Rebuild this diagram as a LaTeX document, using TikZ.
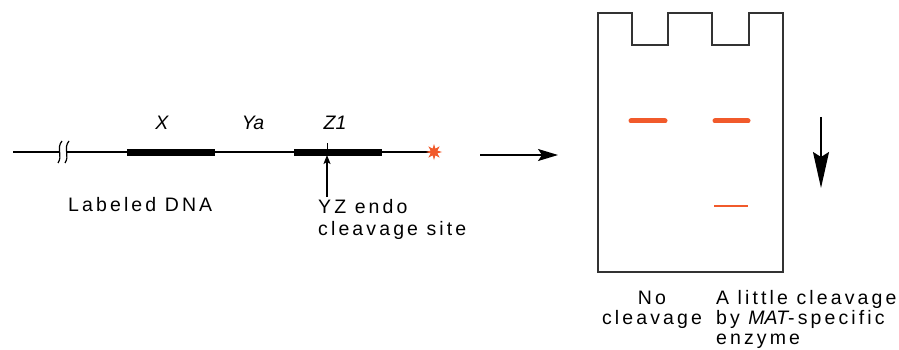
\documentclass[tikz,border=0pt]{standalone}
\usepackage{fontspec}
\setmainfont{Liberation Sans}[LetterSpace=16]
\newfontfamily\plainsf{Liberation Sans}
\usetikzlibrary{arrows.meta,shapes.geometric}
\definecolor{bandred}{HTML}{F15A2B}
\definecolor{gelgray}{HTML}{333333}
\tikzset{
  lbl/.style={inner sep=0pt, font=\fontsize{19.5}{22}\selectfont},
  blbl/.style={inner sep=0pt, font=\fontsize{19.5}{20}\selectfont},
  ilbl/.style={lbl, font=\fontsize{19.5}{22}\selectfont\plainsf\itshape},
  thin dna/.style={line width=2pt, black},
  gene/.style={line width=7pt, black},
  band/.style={line width=5pt, bandred, line cap=round},
  gel/.style={line width=1.5pt, gelgray, line join=miter},
  brk/.style={line width=1.2pt, black},
}
\begin{document}
\begin{tikzpicture}[x=1pt,y=-1pt]
\useasboundingbox (0,0) rectangle (899,350);
% DNA
\coordinate (dL) at (13,152);
\coordinate (b1) at (60,152);
\coordinate (b2) at (67,152);
\coordinate (dR) at (430,152);
\coordinate (xa) at (127,152);
\coordinate (xb) at (215,152);
\coordinate (za) at (294,152);
\coordinate (zb) at (382,152);
\draw[thin dna] (dL) -- (b1);
\draw[thin dna] (b2) -- (dR);
\draw[gene] (xa) -- (xb);
\draw[gene] (za) -- (zb);
\draw[brk] (62,141) .. controls (56,148) and (63,156) .. (58,163);
\draw[brk] (69,141) .. controls (63,148) and (70,156) .. (65,163);
\node[star, star points=8, star point ratio=2.2, fill=bandred, inner sep=0pt, minimum size=16pt] (st) at (434,152) {};
\node[ilbl, anchor=base] (lx) at (162,130) {X};
\node[ilbl, anchor=base] (lya) at (253,130) {Ya};
\node[ilbl, anchor=base] (lz) at (335,130) {Z1};
% cleavage site
\coordinate (tk1) at (327,143);
\coordinate (tk2) at (327,152);
\draw[line width=1pt] (tk1) -- (tk2);
\coordinate (cs) at (327,197);
\coordinate (csh) at (327,155);
\draw[line width=1.2pt, -{Stealth[length=9pt,width=7pt,inset=2pt]}] (cs) -- (csh);
\node[lbl, anchor=base west] (ldna) at (68,211) {Labeled DNA};
\node[lbl, anchor=base west, align=left] (lyz) at (318,235) {YZ endo\\cleavage site};
% horizontal arrow
\coordinate (ha) at (480,155);
\coordinate (hb) at (558,155);
\draw[line width=1.5pt, -{Stealth[length=20pt,width=12pt,inset=4pt]}] (ha) -- (hb);
% gel
\draw[gel] (598,272) -- (598,13) -- (632,13) -- (632,45) -- (668,45) -- (668,13)
  -- (712,13) -- (712,45) -- (749,45) -- (749,13) -- (783,13) -- (783,272) -- cycle;
\coordinate (b1a) at (631,121); \coordinate (b1b) at (665,121);
\coordinate (b2a) at (715,121); \coordinate (b2b) at (748,121);
\coordinate (b3a) at (714,206); \coordinate (b3b) at (748,206);
\draw[band] (b1a) -- (b1b);
\draw[band] (b2a) -- (b2b);
\draw[line width=1.5pt, bandred] (b3a) -- (b3b);
% down arrow
\coordinate (da) at (821,117);
\coordinate (db) at (821,188);
\draw[line width=1.5pt, -{Stealth[length=36pt,width=16pt,inset=5pt]}] (da) -- (db);
% bottom labels
\node[blbl, anchor=base, align=center] (lno) at (652,324) {No\\cleavage};
\node[blbl, anchor=base west, align=left] (lmat) at (716,344) {A little cleavage\\by {\plainsf\itshape MAT}-specific\\enzyme};
\end{tikzpicture}
\end{document}
